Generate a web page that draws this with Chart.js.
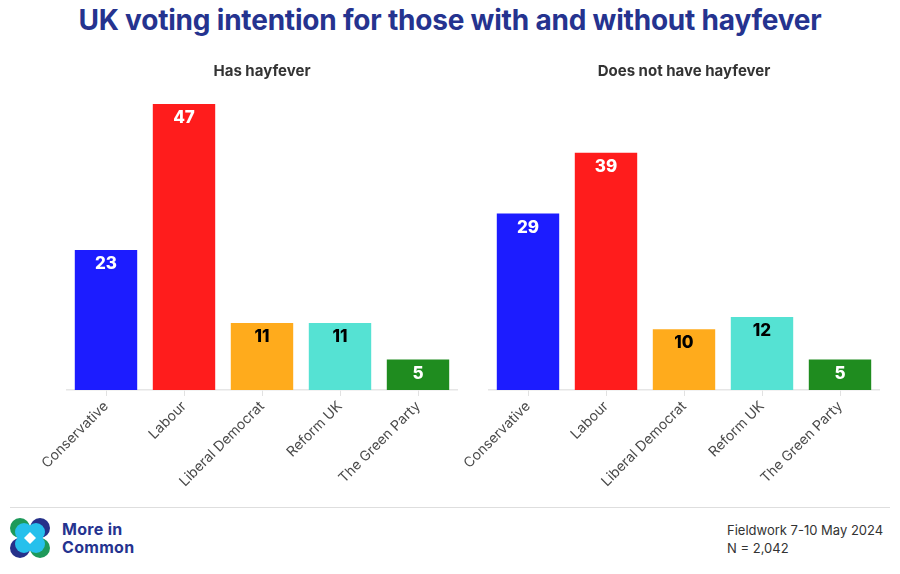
<!DOCTYPE html>
<html lang="en">
<head>
    <meta charset="UTF-8">
    <title>UK voting intention and hayfever</title>
    <script src="https://cdn.jsdelivr.net/npm/chart.js"></script>
    <style>
        body { margin: 0; width: 900px; height: 574px; background: #fff; position: relative; overflow: hidden; font-family: Inter, "Open Sans", sans-serif; }
        .title { position: absolute; top: 3px; left: 0; width: 900px; text-align: center; font-size: 28px; font-weight: 700; color: #25338f; letter-spacing: -0.2px; }
        .box { position: absolute; top: 50px; height: 450px; }
        #left { left: 0; width: 460px; }
        #right { left: 450px; width: 450px; }
        .rule { position: absolute; top: 507px; left: 10px; width: 880px; height: 1px; background: #dedede; }
        .logo { position: absolute; left: 10px; top: 518px; }
        .brand { position: absolute; left: 62px; top: 520px; font-size: 16px; font-weight: 700; color: #25338f; line-height: 18px; letter-spacing: 0.3px; }
        .note { position: absolute; left: 727px; top: 521px; font-size: 13px; color: #333; line-height: 18px; }
    </style>
</head>
<body>
    <div class="title">UK voting intention for those with and without hayfever</div>
    <div class="box" id="left"><canvas id="chartHas"></canvas></div>
    <div class="box" id="right"><canvas id="chartNot"></canvas></div>
    <div class="rule"></div>
    <svg class="logo" width="40" height="40" viewBox="0 0 40 40">
        <circle cx="10" cy="10" r="10" fill="#1e9a5a"/>
        <circle cx="30" cy="10" r="10" fill="#26318a"/>
        <circle cx="10" cy="30" r="10" fill="#26318a"/>
        <circle cx="30" cy="30" r="10" fill="#1e9a5a"/>
        <circle cx="14" cy="14" r="9" fill="#26c0ec"/>
        <circle cx="26" cy="14" r="9" fill="#26c0ec"/>
        <circle cx="14" cy="26" r="9" fill="#26c0ec"/>
        <circle cx="26" cy="26" r="9" fill="#26c0ec"/>
        <polygon points="20,14 26,20 20,26 14,20" fill="#fff"/>
    </svg>
    <div class="brand">More in<br>Common</div>
    <div class="note">Fieldwork 7-10 May 2024<br>N = 2,042</div>
<script>
    var parties = ['Conservative', 'Labour', 'Liberal Democrat', 'Reform UK', 'The Green Party'];
    var hasHayfever = [23, 47, 11, 11, 5];
    var noHayfever = [29, 39, 10, 12, 5];
    var partyColours = ['#1c1cff', '#ff1c1c', '#ffab1c', '#55e2d3', '#1f8c1f'];
    var labelColours = ['#fff', '#fff', '#000', '#000', '#fff'];

    // value labels drawn inside the top of each bar
    var barLabels = {
        id: 'barLabels',
        afterDatasetsDraw: function(chart){
            var ctx = chart.ctx;
            var meta = chart.getDatasetMeta(0);
            var data = chart.data.datasets[0].data;
            ctx.save();
            ctx.font = '800 17px Inter, "Open Sans", sans-serif';
            ctx.textAlign = 'center';
            ctx.textBaseline = 'middle';
            ctx.lineJoin = 'round';
            for(var i = 0; i < meta.data.length; i++){
                var bar = meta.data[i];
                var y = bar.y + 14;
                if(labelColours[i] === '#fff'){
                    ctx.strokeStyle = partyColours[i];
                    ctx.lineWidth = 3;
                    ctx.strokeText(data[i], bar.x, y);
                }
                ctx.fillStyle = labelColours[i];
                ctx.fillText(data[i], bar.x, y);
            }
            ctx.restore();
        }
    };

    function makeChart(id, values, title, padLeft, padRight){
        return new Chart(document.getElementById(id), {
            type: 'bar',
            data: {
                labels: parties,
                datasets: [{
                    data: values,
                    backgroundColor: partyColours,
                    categoryPercentage: 1,
                    barPercentage: 0.8
                }]
            },
            options: {
                responsive: true,
                maintainAspectRatio: false,
                animation: false,
                layout: { padding: { left: padLeft, right: padRight, top: 0, bottom: 0 } },
                plugins: {
                    legend: { display: false },
                    tooltip: { enabled: false },
                    title: {
                        display: true,
                        text: title,
                        fullSize: false,
                        color: '#333',
                        font: { family: 'Inter, "Open Sans", sans-serif', size: 15, weight: '700' },
                        padding: { top: 12, bottom: 18 }
                    }
                },
                scales: {
                    y: { display: false, min: 0, max: 48 },
                    x: {
                        grid: { offset: false, drawOnChartArea: false, drawTicks: true, tickLength: 6, tickColor: '#e2e2e2' },
                        border: { display: true, color: '#e6e6e6', width: 1.5 },
                        ticks: {
                            minRotation: 45,
                            maxRotation: 45,
                            color: '#4a4a4a',
                            padding: 2,
                            font: { family: 'Inter, "Open Sans", sans-serif', size: 14 }
                        },
                        afterFit: function(scale){ scale.height = 110; }
                    }
                }
            },
            plugins: [barLabels]
        });
    }

    makeChart('chartHas', hasHayfever, 'Has hayfever', 67, 3);
    makeChart('chartNot', noHayfever, 'Does not have hayfever', 39, 21);
</script>
</body>
</html>
